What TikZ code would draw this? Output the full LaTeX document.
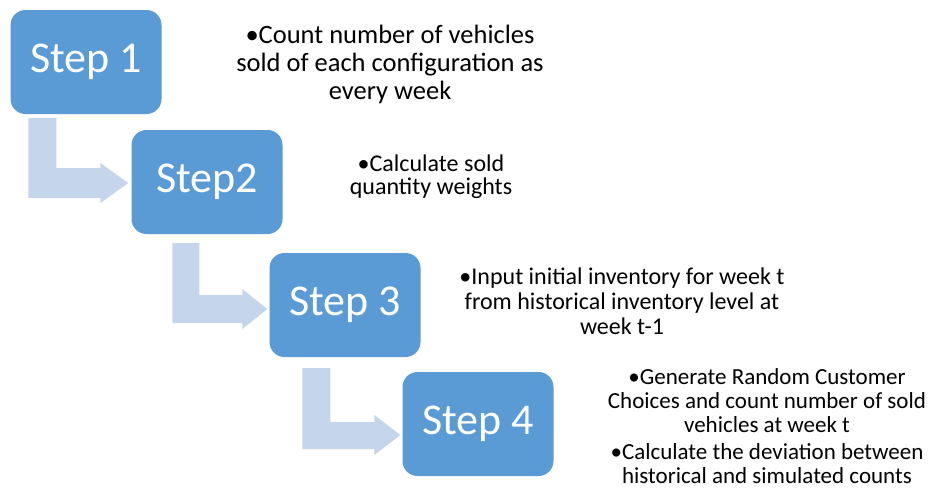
\documentclass[tikz,border=0pt]{standalone}
\usepackage{fontspec}
\setmainfont{Carlito}
\usetikzlibrary{calc}
\definecolor{stepblue}{RGB}{91,155,213}
\definecolor{bendblue}{RGB}{197,213,235}
\tikzset{
    stepbox/.style={draw=none,fill=stepblue,rounded corners=15pt,minimum width=151pt,minimum height=104pt,inner sep=0pt,text=white,font=\fontsize{44}{50}\selectfont},
    bendarrow/.style={fill=bendblue,draw=none},
    note/.style={align=center,inner sep=0pt,font=\fontsize{24}{28}\selectfont}
}
\begin{document}
\begin{tikzpicture}[x=1pt,y=-1pt]
                \useasboundingbox[fill=white] (0,0) rectangle (938,488);
                \node[stepbox] (step1) at (86,62) {Step 1};
                \node[stepbox] (step2) at (207,182) {Step2};
                \node[stepbox] (step3) at (345,305) {Step 3};
                \node[stepbox] (step4) at (478,424) {Step 4};
                % bent arrows between the steps
                \fill[bendarrow] ($(step1.south west)+(18,4)$) |- ($(step2.west)+(-31,16)$) -- ++(0,5) -- ($(step2.west)+(-3,1)$) -- ++(-28,-20) -- ++(0,5) -| ($(step1.south west)+(46,4)$) -- cycle;
                \fill[bendarrow] ($(step2.south west)+(41,9)$) |- ($(step3.west)+(-27,18)$) -- ++(0,6) -- ($(step3.west)+(-2,4)$) -- ++(-25,-20) -- ++(0,6) -| ($(step2.south west)+(68,9)$) -- cycle;
                \fill[bendarrow] ($(step3.south west)+(33,11)$) |- ($(step4.west)+(-28,25)$) -- ++(0,6) -- ($(step4.west)+(-2,11)$) -- ++(-26,-20) -- ++(0,7) -| ($(step3.south west)+(61,11)$) -- cycle;
                % notes
                \node[note,font=\fontsize{26.5}{28}\selectfont] (note1) at (390,64) {\textbullet Count number of vehicles\\sold of each configuration as\\every week};
                \node[note,font=\fontsize{24}{23}\selectfont] (note2) at (431,177) {\textbullet Calculate sold\\quantity weights};
                \node[note,font=\fontsize{24}{25}\selectfont] (note3) at (622,301) {\textbullet Input initial inventory for week t\\from historical inventory level at\\week t-1};
                \node[note,font=\fontsize{23}{24}\selectfont] (note4a) at (767,401) {\textbullet Generate Random Customer\\Choices and count number of sold\\vehicles at week t};
                \node[note,font=\fontsize{23}{24}\selectfont] (note4b) at (767,464) {\textbullet Calculate the deviation between\\historical and simulated counts};
\end{tikzpicture}
\end{document}
